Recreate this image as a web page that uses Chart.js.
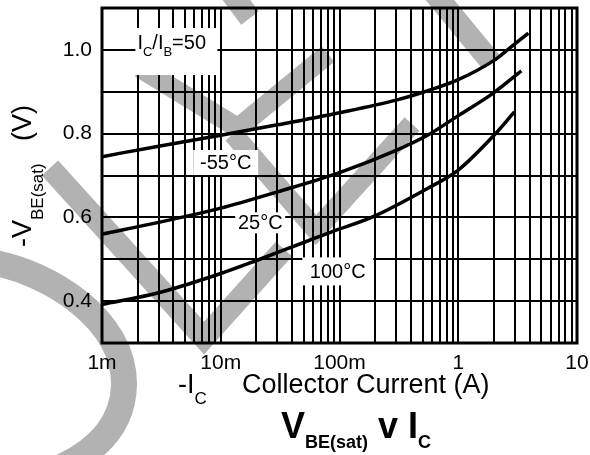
<!DOCTYPE html>
<html>
<head>
<meta charset="utf-8">
<script src="https://cdn.jsdelivr.net/npm/chart.js@4.4.1/dist/chart.umd.min.js"></script>
<style>
html, body { margin: 0; padding: 0; background: #fff; }
</style>
</head>
<body>
<canvas id="chart" width="590" height="455"></canvas>
<script>
// Values (collector current in A, VBE(sat) in V)
const currentM55 = [0.001, 0.003, 0.01, 0.03, 0.1, 0.3, 0.52, 1, 2, 2.6, 3.9];
const vbeM55 = [0.745, 0.770, 0.796, 0.821, 0.850, 0.880, 0.900, 0.929, 0.975, 1.000, 1.040];

const current25 = [0.001, 0.003, 0.01, 0.03, 0.1, 0.3, 0.55, 1, 2, 3.4];
const vbe25 = [0.560, 0.588, 0.622, 0.661, 0.707, 0.760, 0.796, 0.843, 0.898, 0.950];

const current100 = [0.001, 0.003, 0.01, 0.02, 0.05, 0.085, 0.19, 0.55, 1, 2, 2.97];
const vbe100 = [0.392, 0.420, 0.466, 0.497, 0.540, 0.565, 0.601, 0.669, 0.713, 0.796, 0.852];

const seriesNames = ['-55°C', '25°C', '100°C'];

// Axis ticks
const xLabelValues = [0.001, 0.01, 0.1, 1, 10];
const xTickLabels = ['1m', '10m', '100m', '1', '10'];
const yGridValues = [0.3, 0.4, 0.5, 0.6, 0.7, 0.8, 0.9, 1.0, 1.1];
const yLabelValues = [0.4, 0.6, 0.8, 1.0];
const yTickLabels = ['0.4', '0.6', '0.8', '1.0'];

const xGridValues = [];
[0.001, 0.01, 0.1, 1].forEach(d => {
	for (let m = 1; m < 10; m++) xGridValues.push(m * d);
});
xGridValues.push(10);

// Curve labels, placed in data units
const curveLabels = [
	{ text: seriesNames[0], x: 0.011, y: 0.731, w: 65, h: 25 },
	{ text: seriesNames[1], x: 0.0215, y: 0.587, w: 50, h: 21 },
	{ text: seriesNames[2], x: 0.0967, y: 0.471, w: 71, h: 28 }
];

const FONT = '"Liberation Sans", Arial, sans-serif';

function toPoints(xs, ys) {
	return xs.map((x, i) => ({ x: x, y: ys[i] }));
}

// draw a run of text pieces (normal / subscript) left to right
function drawRuns(ctx, x, y, runs, bold) {
	runs.forEach(r => {
		ctx.font = (bold ? 'bold ' : '') + r.size + 'px ' + FONT;
		ctx.fillText(r.t, x, y + (r.dy || 0));
		x += ctx.measureText(r.t).width;
	});
	return x;
}

function band(ctx, pts, w) {
	ctx.lineWidth = w;
	ctx.beginPath();
	ctx.moveTo(pts[0][0], pts[0][1]);
	for (let i = 1; i < pts.length; i++) ctx.lineTo(pts[i][0], pts[i][1]);
	ctx.stroke();
}

function noPadding(scale) {
	scale.paddingTop = 0;
	scale.paddingBottom = 0;
	scale.paddingLeft = 0;
	scale.paddingRight = 0;
}

const overlay = {
	id: 'overlay',
	beforeDraw(chart) {
		// grey watermark behind everything
		const ctx = chart.ctx;
		ctx.save();
		ctx.strokeStyle = '#b2b2b2';
		ctx.lineCap = 'butt';
		ctx.lineJoin = 'miter';
		band(ctx, [[50, 168], [204, 338], [284, 249]], 22);
		band(ctx, [[140, 68], [238, 128], [328, 54]], 20);
		band(ctx, [[233, 134], [316, 230], [412, 124]], 20);
		band(ctx, [[430, -12], [491, 62]], 22);
		band(ctx, [[225, -15], [250, 18]], 22);
		ctx.lineWidth = 26;
		ctx.beginPath();
		ctx.moveTo(-10, 262);
		ctx.bezierCurveTo(50, 272, 125, 320, 124, 385);
		ctx.bezierCurveTo(123, 430, 90, 455, 55, 470);
		ctx.stroke();
		ctx.restore();
	},
	beforeDatasetsDraw(chart) {
		const ctx = chart.ctx;
		const xs = chart.scales.x, ys = chart.scales.y;
		ctx.save();
		ctx.textBaseline = 'middle';
		ctx.textAlign = 'center';
		curveLabels.forEach(l => {
			const px = xs.getPixelForValue(l.x);
			const py = ys.getPixelForValue(l.y);
			ctx.fillStyle = '#fff';
			ctx.fillRect(px - l.w / 2, py - l.h / 2, l.w, l.h);
			ctx.fillStyle = '#000';
			ctx.font = '20px ' + FONT;
			ctx.fillText(l.text, px, py + 1);
		});
		// IC/IB = 50 box
		const bx = xs.getPixelForValue(0.00423), by = ys.getPixelForValue(0.996);
		ctx.fillStyle = '#fff';
		ctx.fillRect(bx - 41, by - 23.5, 82, 47);
		ctx.fillStyle = '#000';
		ctx.textAlign = 'left';
		ctx.textBaseline = 'alphabetic';
		drawRuns(ctx, bx - 39, by - 2.5, [
			{ t: 'I', size: 20 }, { t: 'C', size: 13, dy: 7 },
			{ t: '/', size: 20 }, { t: 'I', size: 20 }, { t: 'B', size: 13, dy: 7 },
			{ t: '=50', size: 20 }
		]);
		ctx.restore();
	},
	afterDraw(chart) {
		const ctx = chart.ctx;
		const a = chart.chartArea;
		ctx.save();
		ctx.strokeStyle = '#000';
		ctx.lineWidth = 3;
		ctx.strokeRect(a.left, a.top, a.right - a.left, a.bottom - a.top);

		ctx.fillStyle = '#000';
		ctx.textAlign = 'left';
		ctx.textBaseline = 'alphabetic';
		// x axis title
		drawRuns(ctx, 178, 393, [{ t: '-I', size: 27 }, { t: 'C', size: 17, dy: 11 }]);
		drawRuns(ctx, 242, 393, [{ t: 'Collector Current (A)', size: 27 }]);
		// y axis title, rotated
		ctx.save();
		ctx.translate(31, 247);
		ctx.rotate(-Math.PI / 2);
		drawRuns(ctx, 0, 0, [{ t: '-V', size: 27 }, { t: 'BE(sat)', size: 17, dy: 12 }]);
		drawRuns(ctx, 106, 0, [{ t: '(V)', size: 27 }]);
		ctx.restore();
		// chart title
		drawRuns(ctx, 281, 438, [
			{ t: 'V', size: 36 }, { t: 'BE(sat)', size: 18, dy: 10 },
			{ t: ' v ', size: 36 }, { t: 'I', size: 36 }, { t: 'C', size: 18, dy: 10 }
		], true);
		ctx.restore();
	}
};

const lineStyle = {
	borderColor: '#000',
	borderWidth: 3.5,
	pointRadius: 0,
	fill: false,
	cubicInterpolationMode: 'monotone'
};

new Chart(document.getElementById('chart'), {
	type: 'line',
	data: {
		datasets: [
			Object.assign({ label: seriesNames[0], data: toPoints(currentM55, vbeM55) }, lineStyle),
			Object.assign({ label: seriesNames[1], data: toPoints(current25, vbe25) }, lineStyle),
			Object.assign({ label: seriesNames[2], data: toPoints(current100, vbe100) }, lineStyle)
		]
	},
	options: {
		responsive: false,
		animation: false,
		devicePixelRatio: 1,
		layout: { padding: { top: 8, right: 13, left: 0, bottom: 0 } },
		plugins: {
			legend: { display: false },
			tooltip: { enabled: false }
		},
		scales: {
			x: {
				type: 'logarithmic',
				min: 0.001,
				max: 10,
				afterBuildTicks: scale => { scale.ticks = xGridValues.map(v => ({ value: v })); },
				afterFit: scale => { scale.height = 112; noPadding(scale); },
				grid: { color: '#000', lineWidth: 2, drawTicks: false },
				border: { display: false },
				ticks: {
					autoSkip: false,
					maxRotation: 0,
					padding: 8,
					color: '#000',
					font: { family: FONT, size: 21 },
					callback: value => {
						const i = xLabelValues.indexOf(value);
						return i >= 0 ? xTickLabels[i] : '';
					}
				}
			},
			y: {
				type: 'linear',
				min: 0.3,
				max: 1.1,
				afterBuildTicks: scale => { scale.ticks = yGridValues.map(v => ({ value: v })); },
				afterFit: scale => { scale.width = 102; noPadding(scale); },
				grid: { color: '#000', lineWidth: 2, drawTicks: false },
				border: { display: false },
				ticks: {
					padding: 10,
					color: '#000',
					font: { family: FONT, size: 21 },
					callback: value => {
						const i = yLabelValues.findIndex(v => Math.abs(v - value) < 1e-6);
						return i >= 0 ? yTickLabels[i] : '';
					}
				}
			}
		}
	},
	plugins: [overlay]
});
</script>
</body>
</html>
